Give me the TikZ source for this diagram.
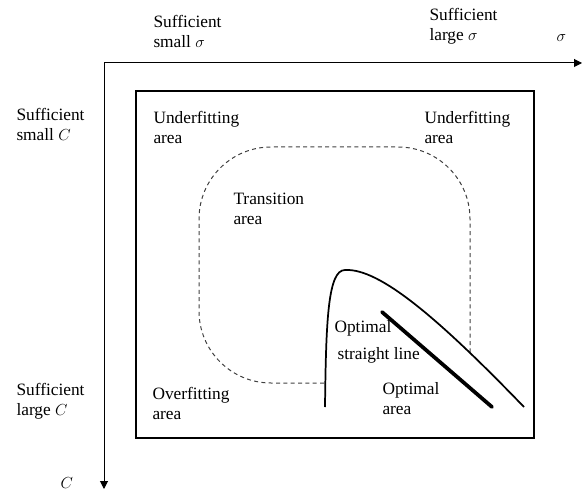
\documentclass[tikz,border=0pt]{standalone}
\usepackage{fontspec}
\setmainfont{Liberation Serif}
\usetikzlibrary{arrows.meta}

\tikzset{every picture/.style={line width=0.75pt}}
\tikzset{
  lbl/.style={anchor=west, align=left, inner sep=0pt, font=\fontsize{13}{15}\selectfont},
  axis/.style={line width=0.75pt, -{Triangle[length=6pt,width=6pt]}},
  trans/.style={dash pattern=on 3pt off 2.5pt, line width=0.75pt, black!75},
}

\begin{document}
\begin{tikzpicture}[x=0.75pt,y=0.75pt,yscale=-1,xscale=1]
\useasboundingbox (0,0) rectangle (584,491);

%Axes
\coordinate (orig) at (104,63);
\coordinate (sigEnd) at (582,63);
\coordinate (cEnd) at (104,489);
\draw [axis] (orig) -- (sigEnd);
\draw [axis] (orig) -- (cEnd);

%Shape: Rectangle [frame]
\draw [line width=1.1pt] (136,91) -- (534,91) -- (534,438) -- (136,438) -- cycle ;

%Transition area (dashed, stops at the curve)
\draw [trans, rounded corners=54pt] (324,383) -- (199,383) -- (199,147) -- (470,147) -- (470,352) ;

%Curve
\coordinate (cvBot) at (325,407);
\coordinate (cvTop) at (345,270);
\coordinate (cvEnd) at (524,407);
\draw [line width=1.3pt] (cvBot) .. controls (326,320) and (328,270) .. (cvTop) .. controls (380,268) and (440,320) .. (cvEnd) ;

%Optimal straight line
\coordinate (optA) at (382,312);
\coordinate (optB) at (492,407);
\draw [line width=2.8pt, line cap=round] (optA) -- (optB) ;

% Text Node
\draw (153,31) node (smallSig) [lbl] {Sufficient\\small $\sigma$};
% Text Node
\draw (429,26) node (largeSig) [lbl] {Sufficient\\large $\sigma$};
% Text Node
\draw (556,38) node (sigLbl) [lbl] {$\sigma$};
% Text Node
\draw (16,124) node (smallC) [lbl] {Sufficient\\small $C$};
% Text Node
\draw (16,401) node (largeC) [lbl] {Sufficient\\large $C$};
% Text Node
\draw (60,483) node (cLbl) [lbl] {$C$};
% Text Node
\draw (153,127) node (underL) [lbl] {Underfitting\\area};
% Text Node
\draw (424,127) node (underR) [lbl] {Underfitting\\area};
% Text Node
\draw (233,209) node (transLbl) [lbl] {Transition\\area};
% Text Node
\draw (152,403) node (overLbl) [lbl] {Overfitting\\area};
% Text Node
\draw (382,399) node (optArea) [lbl] {Optimal\\area};
% Text Node
\draw (334,328) node (optLine) [lbl] {Optimal};
% Text Node
\draw (337,355) node (straightLbl) [lbl] {straight line};

\end{tikzpicture}
\end{document}
